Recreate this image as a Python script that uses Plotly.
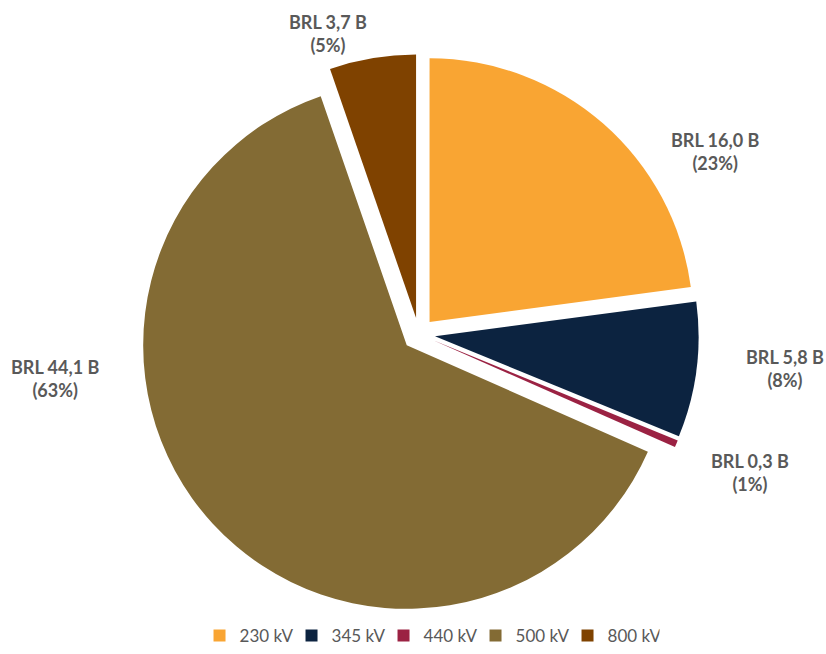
import plotly.graph_objects as go

# Investment by voltage level
categories = ["230 kV", "345 kV", "440 kV", "500 kV", "800 kV"]
values_brl_bn = [16.0, 5.8, 0.3, 44.1, 3.7]
share_pct = [23, 8, 1, 63, 5]
colors = ["#F9A533", "#0C2340", "#9B2243", "#836B34", "#7F4200"]

# label anchor points (paper coordinates) for each slice
label_pos = [(0.866, 0.768), (0.950, 0.437), (0.908, 0.2775), (0.067, 0.422), (0.397, 0.9495)]

fig = go.Figure(
    go.Pie(
        labels=categories,
        values=values_brl_bn,
        marker=dict(colors=colors, line=dict(width=0)),
        sort=False,
        direction="clockwise",
        rotation=0,
        pull=0.062,
        textinfo="none",
        hoverinfo="label+value",
        domain=dict(x=[0.168, 0.846], y=[0.061, 0.917]),
    )
)

annotations = []
for v, p, (x, y) in zip(values_brl_bn, share_pct, label_pos):
    txt = "<b>" + f"BRL {v:.1f} B".replace(".", ",") + f"<br>({p}%)</b>"
    annotations.append(
        dict(
            x=x, y=y, xref="paper", yref="paper",
            text=txt, showarrow=False,
            font=dict(family="Lato, Carlito, Arial", size=18, color="#595959"),
            align="center", xanchor="center", yanchor="middle",
        )
    )

fig.update_layout(
    width=826,
    height=654,
    margin=dict(l=0, r=0, t=0, b=0),
    paper_bgcolor="white",
    plot_bgcolor="white",
    annotations=annotations,
    showlegend=True,
    legend=dict(
        orientation="h",
        x=0.52, xanchor="center",
        y=0.0, yanchor="bottom",
        font=dict(family="Lato, Carlito, Arial", size=17, color="#595959"),
        itemwidth=30,
        entrywidth=47,
        entrywidthmode="pixels",
        traceorder="normal",
    ),
)

fig.write_html("out.html")
